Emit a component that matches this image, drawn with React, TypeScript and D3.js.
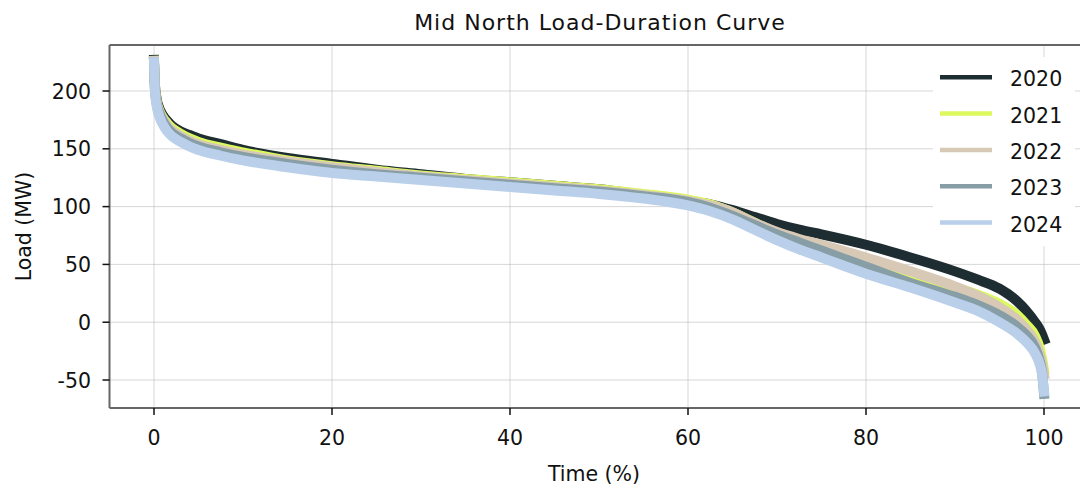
import React from 'react';
import * as d3 from 'd3';

// percent of time (x) where each curve is sampled
const pct = [0, 0.1, 0.3, 0.6, 1, 1.5, 2, 3, 4, 5, 7.5, 10, 15, 20, 25, 30, 35, 40, 45, 50, 55, 60, 62.5, 65, 67.5, 70, 72.5, 75, 80, 85, 90, 92.5, 95, 97, 98, 99, 99.5, 99.8, 100];

const load2020 = [227, 206, 193, 185, 179, 174, 170, 165, 162, 159, 154, 149, 142, 137, 132, 128, 124, 121, 118, 115, 110, 105, 102, 97, 91, 85, 80, 76, 67, 56, 44, 37, 29, 18, 10, 0, -6, -11, -15];
const load2021 = [226, 204, 191, 183, 177, 172, 168, 163, 159, 156, 151, 147, 140, 135, 131, 127, 124, 121, 118, 115, 111, 106, 102, 95, 86, 77, 70, 64, 52, 40, 30, 24, 16, 6, -2, -12, -22, -32, -41];
const load2022 = [226, 203, 190, 182, 176, 170, 166, 161, 157, 154, 149, 145, 139, 134, 130, 126, 123, 120, 117, 114, 110, 105, 101, 95, 86, 78, 72, 67, 56, 44, 31, 23, 13, 2, -6, -17, -27, -36, -45];
const load2023 = [225, 202, 189, 181, 174, 168, 164, 159, 155, 152, 147, 143, 137, 132, 128, 125, 122, 119, 116, 113, 109, 104, 99, 92, 84, 76, 69, 62, 48, 34, 22, 15, 6, -4, -11, -22, -33, -45, -62];
const load2024 = [225, 200, 187, 178, 171, 165, 161, 156, 152, 149, 144, 140, 134, 129, 126, 123, 120, 117, 114, 111, 107, 101, 96, 89, 80, 71, 63, 56, 42, 30, 17, 10, 0, -10, -17, -27, -36, -46, -60];

const years = ['2020', '2021', '2022', '2023', '2024'];
const colors = ['#1e2d31', '#dcf95e', '#d7c9b5', '#879ea6', '#b9cfea'];
const xTicks = [0, 20, 40, 60, 80, 100];
const yTicks = [-50, 0, 50, 100, 150, 200];

const W = 1080;
const H = 493;
const font = '"DejaVu Sans", sans-serif';

export default function App() {
  const series = [load2020, load2021, load2022, load2023, load2024];

  const x = d3.scaleLinear().domain([-5, 105]).range([109.5, 1088.5]);
  const y = d3.scaleLinear().domain([-74.2, 239.8]).range([408, 45]);
  const [left, right] = x.range();
  const [bottom, top] = y.range();

  const line = d3
    .line<number>()
    .x((d, i) => x(pct[i]))
    .y((d) => y(d))
    .curve(d3.curveMonotoneX);

  return (
    <svg width={W} height={H} style={{ position: 'absolute', left: 0, top: 0, background: '#fff' }} fontFamily={font}>
      <defs>
        <clipPath id="plotArea">
          <rect x={left} y={top} width={right - left} height={bottom - top} />
        </clipPath>
      </defs>

      {/* grid */}
      <g stroke="#b0b0b0" strokeOpacity={0.5} strokeWidth={1}>
        {xTicks.map((t) => (
          <line key={'gx' + t} x1={x(t)} x2={x(t)} y1={top} y2={bottom} />
        ))}
        {yTicks.map((t) => (
          <line key={'gy' + t} x1={left} x2={right} y1={y(t)} y2={y(t)} />
        ))}
      </g>

      {/* curves */}
      <g clipPath="url(#plotArea)" fill="none">
        {series.map((s, i) => (
          <path key={years[i]} d={line(s) || ''} stroke={colors[i]} strokeWidth={10} strokeLinecap="square" strokeLinejoin="round" />
        ))}
      </g>

      {/* legend */}
      <rect x={933} y={57} width={142} height={189} fill="#fff" />
      {years.map((yr, i) => (
        <g key={'lg' + yr} transform={`translate(0, ${77.3 + i * 36.3})`}>
          <line x1={940} x2={992} y1={0} y2={0} stroke={colors[i]} strokeWidth={4.5} />
          <text x={1010} y={9} fontSize={20.5} fill="#111">{yr}</text>
        </g>
      ))}

      {/* spines */}
      <g stroke="#666" strokeWidth={2} fill="none">
        <line x1={left} x2={left} y1={top} y2={bottom} />
        <line x1={left} x2={right} y1={bottom} y2={bottom} />
        <line x1={left} x2={right} y1={top} y2={top} />
      </g>

      {/* x axis */}
      {xTicks.map((t) => (
        <g key={'xt' + t}>
          <line x1={x(t)} x2={x(t)} y1={bottom} y2={bottom + 7} stroke="#111" strokeWidth={1.5} />
          <text x={x(t)} y={445} textAnchor="middle" fontSize={20.5} fill="#111">{t}</text>
        </g>
      ))}
      {/* y axis */}
      {yTicks.map((t) => (
        <g key={'yt' + t}>
          <line x1={left - 7} x2={left} y1={y(t)} y2={y(t)} stroke="#111" strokeWidth={1.5} />
          <text x={91} y={y(t) + 7.5} textAnchor="end" fontSize={20.5} fill="#111">{t}</text>
        </g>
      ))}

      <text x={(left + right) / 2 - 5} y={481} textAnchor="middle" fontSize={20.5} fill="#111">Time (%)</text>
      <text transform={`translate(31, ${(top + bottom) / 2}) rotate(-90)`} textAnchor="middle" fontSize={20.5} fill="#111">Load (MW)</text>
      <text x={(left + right) / 2 + 1} y={30} textAnchor="middle" fontSize={22} letterSpacing={1} fill="#111">Mid North Load-Duration Curve</text>
    </svg>
  );
}
